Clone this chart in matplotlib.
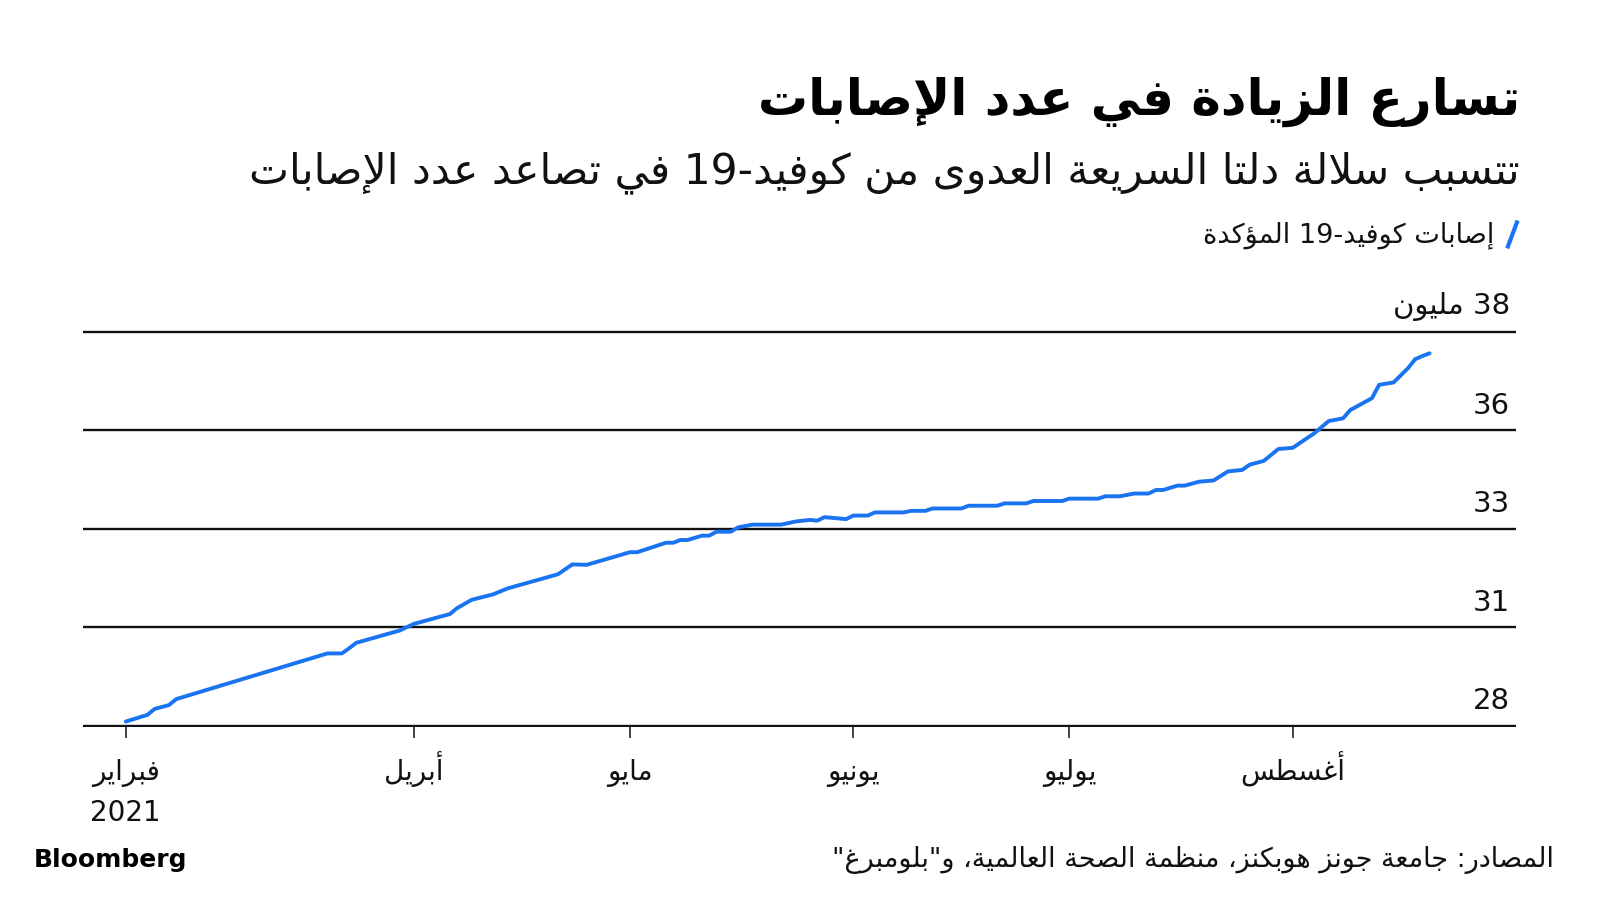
import re
import pandas as pd
import matplotlib
matplotlib.use("Agg")
import matplotlib.pyplot as plt
from matplotlib.lines import Line2D

# ---- data (US confirmed cases, millions) ----
dates = [
    "2021-02-20", "2021-02-23", "2021-02-24", "2021-02-26", "2021-02-27",
    "2021-03-20", "2021-03-22", "2021-03-23", "2021-03-24", "2021-03-30",
    "2021-04-01", "2021-04-06", "2021-04-07", "2021-04-09", "2021-04-12",
    "2021-04-14", "2021-04-21", "2021-04-23", "2021-04-25", "2021-05-01",
    "2021-05-02", "2021-05-06", "2021-05-07", "2021-05-08", "2021-05-09",
    "2021-05-11", "2021-05-12", "2021-05-13", "2021-05-15", "2021-05-16",
    "2021-05-18", "2021-05-22", "2021-05-24", "2021-05-26", "2021-05-27",
    "2021-05-28", "2021-05-31", "2021-06-01", "2021-06-03", "2021-06-04",
    "2021-06-08", "2021-06-09", "2021-06-11", "2021-06-12", "2021-06-16",
    "2021-06-17", "2021-06-21", "2021-06-22", "2021-06-25", "2021-06-26",
    "2021-06-30", "2021-07-01", "2021-07-05", "2021-07-06", "2021-07-08",
    "2021-07-10", "2021-07-12", "2021-07-13", "2021-07-14", "2021-07-16",
    "2021-07-17", "2021-07-19", "2021-07-21", "2021-07-23", "2021-07-25",
    "2021-07-26", "2021-07-28", "2021-07-30", "2021-08-01", "2021-08-04",
    "2021-08-06", "2021-08-08", "2021-08-09", "2021-08-12", "2021-08-13",
    "2021-08-15", "2021-08-17", "2021-08-18", "2021-08-19", "2021-08-20",
]
cases = [
    28.10, 28.27, 28.42, 28.52, 28.67,
    29.83, 29.83, 29.96, 30.10, 30.41,
    30.58, 30.83, 30.98, 31.19, 31.33,
    31.48, 31.84, 32.09, 32.08, 32.40,
    32.40, 32.64, 32.64, 32.71, 32.71,
    32.82, 32.82, 32.92, 32.92, 33.03,
    33.10, 33.10, 33.18, 33.22, 33.20,
    33.29, 33.24, 33.33, 33.33, 33.41,
    33.41, 33.45, 33.45, 33.51, 33.51,
    33.58, 33.58, 33.64, 33.64, 33.70,
    33.70, 33.76, 33.76, 33.82, 33.82,
    33.89, 33.89, 33.98, 33.98, 34.09,
    34.09, 34.19, 34.22, 34.45, 34.49,
    34.62, 34.72, 35.02, 35.05, 35.42,
    35.73, 35.80, 36.01, 36.31, 36.65,
    36.71, 37.07, 37.30, 37.38, 37.45,
]

ytick_values = [28, 30.5, 33, 35.5, 38]
ytick_labels = ["28", "31", "33", "36", "38 مليون"]
xtick_dates = ["2021-02-20", "2021-04-01", "2021-05-01", "2021-06-01", "2021-07-01", "2021-08-01"]
xtick_labels = ["فبراير", "أبريل", "مايو", "يونيو", "يوليو", "أغسطس"]
year_label = "2021"

title = "تسارع الزيادة في عدد الإصابات"
subtitle = "تتسبب سلالة دلتا السريعة العدوى من كوفيد-19 في تصاعد عدد الإصابات"
legend_label = "إصابات كوفيد-19 المؤكدة"
source = "المصادر: جامعة جونز هوبكنز، منظمة الصحة العالمية، و\"بلومبرغ\""

# ---- minimal arabic shaping (matplotlib has no text shaping) ----
FORMS = {
    'ء': (0xFE80, 1), 'آ': (0xFE81, 2), 'أ': (0xFE83, 2), 'ؤ': (0xFE85, 2),
    'إ': (0xFE87, 2), 'ئ': (0xFE89, 4), 'ا': (0xFE8D, 2), 'ب': (0xFE8F, 4),
    'ة': (0xFE93, 2), 'ت': (0xFE95, 4), 'ث': (0xFE99, 4), 'ج': (0xFE9D, 4),
    'ح': (0xFEA1, 4), 'خ': (0xFEA5, 4), 'د': (0xFEA9, 2), 'ذ': (0xFEAB, 2),
    'ر': (0xFEAD, 2), 'ز': (0xFEAF, 2), 'س': (0xFEB1, 4), 'ش': (0xFEB5, 4),
    'ص': (0xFEB9, 4), 'ض': (0xFEBD, 4), 'ط': (0xFEC1, 4), 'ظ': (0xFEC5, 4),
    'ع': (0xFEC9, 4), 'غ': (0xFECD, 4), 'ف': (0xFED1, 4), 'ق': (0xFED5, 4),
    'ك': (0xFED9, 4), 'ل': (0xFEDD, 4), 'م': (0xFEE1, 4), 'ن': (0xFEE5, 4),
    'ه': (0xFEE9, 4), 'و': (0xFEED, 2), 'ى': (0xFEEF, 2), 'ي': (0xFEF1, 4),
}
LAM_ALEF = {'آ': 0xFEF5, 'أ': 0xFEF7, 'إ': 0xFEF9, 'ا': 0xFEFB}


def shape(text):
    out = []
    prev_joins = False
    i = 0
    while i < len(text):
        c = text[i]
        nxt = text[i + 1] if i + 1 < len(text) else ''
        if c == 'ل' and nxt in LAM_ALEF:
            out.append(chr(LAM_ALEF[nxt] + (1 if prev_joins else 0)))
            prev_joins = False
            i += 2
            continue
        if c not in FORMS:
            out.append(c)
            prev_joins = False
            i += 1
            continue
        base, n = FORMS[c]
        next_ok = n == 4 and nxt in FORMS and FORMS[nxt][1] > 1
        if n == 1:
            code = base
        elif prev_joins and next_ok:
            code = base + 3
        elif prev_joins:
            code = base + 1
        elif next_ok:
            code = base + 2
        else:
            code = base
        out.append(chr(code))
        prev_joins = next_ok
        i += 1
    return ''.join(out)


def ar(text):
    # shape, then flip to visual order keeping digit/latin runs left-to-right
    vis = shape(text)[::-1]
    return re.sub(r'[0-9A-Za-z]+', lambda m: m.group(0)[::-1], vis)


plt.rcParams['font.family'] = ['DejaVu Sans']
BLUE = '#1a73f0'
INK = '#111111'

x = pd.to_datetime(dates)
fig = plt.figure(figsize=(16, 9), dpi=100)
ax = fig.add_axes([0.0516, 0.1917, 0.8959, 0.442])

ax.plot(x, cases, color=BLUE, lw=2.8, solid_joinstyle='round', solid_capstyle='round', zorder=3)

ax.set_xlim(pd.Timestamp("2021-02-14"), pd.Timestamp("2021-09-01"))
ax.set_ylim(27.95, 38.05)

for s in ax.spines.values():
    s.set_visible(False)

ax.set_yticks(ytick_values)
ax.set_yticklabels([])
ax.tick_params(axis='y', length=0)
ax.grid(axis='y', color=INK, lw=1.7)
ax.set_axisbelow(True)

for v, lab in zip(ytick_values, ytick_labels):
    ax.text(0.996, v + 0.26, ar(lab), transform=ax.get_yaxis_transform(),
            ha='right', va='bottom', fontsize=21, color=INK)

ax.set_xticks(pd.to_datetime(xtick_dates))
ax.set_xticklabels([ar(t) for t in xtick_labels], fontsize=20, color=INK)
for lbl in ax.get_xticklabels():
    lbl.set_va('baseline')
ax.tick_params(axis='x', direction='out', length=8, width=1.1, color=INK, pad=30)
ax.text(pd.Timestamp(xtick_dates[0]), -0.215, year_label, transform=ax.get_xaxis_transform(),
        ha='center', va='center', fontsize=20, color=INK)

# header
fig.text(0.950, 0.887, ar(title), ha='right', va='center', fontsize=36, fontweight='bold', color='black')
fig.text(0.950, 0.808, ar(subtitle), ha='right', va='center', fontsize=30.5, color=INK)
fig.text(0.934, 0.739, ar(legend_label), ha='right', va='center', fontsize=19.5, color=INK)
fig.add_artist(Line2D([0.9420, 0.9485], [0.724, 0.755], transform=fig.transFigure,
                      color=BLUE, lw=3.0, solid_capstyle='butt'))

# footer
fig.text(0.021, 0.044, "Bloomberg", ha='left', va='center', fontsize=18, fontweight='bold', color='black')
fig.text(0.971, 0.044, ar(source), ha='right', va='center', fontsize=19.5, color=INK)

fig.savefig("out.png", dpi=100, facecolor='white')
